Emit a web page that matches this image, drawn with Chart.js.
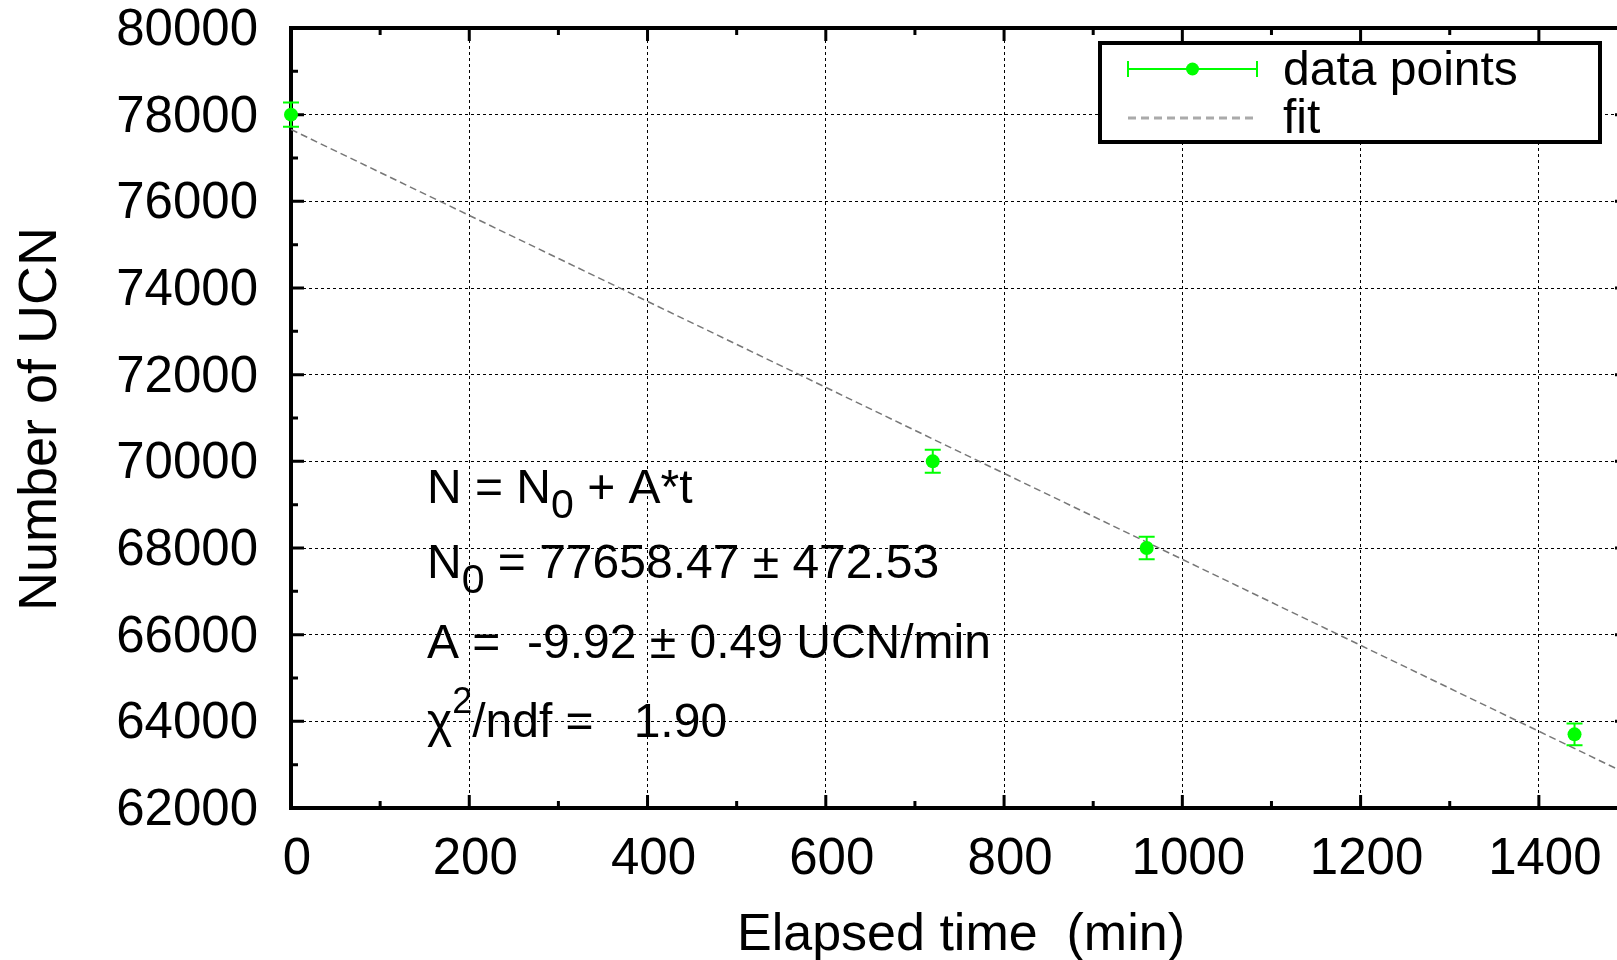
<!DOCTYPE html>
<html>
<head>
<meta charset="utf-8">
<title>Number of UCN vs elapsed time</title>
<script src="https://cdn.jsdelivr.net/npm/chart.js@4.4.1/dist/chart.umd.min.js"></script>
<style>
  html, body { margin: 0; padding: 0; background: #fff; overflow: hidden; }
  #wrap { width: 1640px; height: 960px; }
</style>
</head>
<body>
<div id="wrap"><canvas id="chart" width="1640" height="960"></canvas></div>
<script>
// measured points (time in min, counts, error)
const timeMin = [0, 720, 960, 1440];
const ucnCount = [78000, 70000, 68000, 63700];
const ucnError = [280, 265, 261, 252];

// straight-line fit, end points
const fitTime = [0, 1500];
const fitCount = [77658.47, 62778.47];

const xTicks = [0, 200, 400, 600, 800, 1000, 1200, 1400];
const yTicks = [62000, 64000, 66000, 68000, 70000, 72000, 74000, 76000, 78000, 80000];

// fit result text, one entry per line; sub/sup mark small script parts
const fitText = [
    [{ t: 'N = N' }, { t: '0', sub: true }, { t: ' + A*t' }],
    [{ t: 'N' }, { t: '0', sub: true }, { t: ' = 77658.47 \u00b1 472.53' }],
    [{ t: 'A =  -9.92 \u00b1 0.49 UCN/min' }],
    [{ t: '\u03c7' }, { t: '2', sup: true }, { t: '/ndf =   1.90' }]
];

const FONT = '"Liberation Sans", Arial, Helvetica, sans-serif';
const GREEN = '#00ff00';

Chart.defaults.font.family = FONT;
Chart.defaults.color = '#000';

function drawAxisTicks(ctx, chart) {
    const { left, right, top, bottom } = chart.chartArea;
    const xs = chart.scales.x, ys = chart.scales.y;
    const major = 13, minor = 7;

    const xMajor = xs.ticks.map(t => t.value);
    const xMinor = xMajor.map(v => v + 100);
    const yMajor = ys.ticks.map(t => t.value);
    const yMinor = yMajor.slice(0, -1).map(v => v + 1000);

    ctx.strokeStyle = '#000';
    ctx.lineWidth = 3;
    ctx.beginPath();
    xMajor.forEach(v => {
        const p = xs.getPixelForValue(v);
        ctx.moveTo(p, bottom); ctx.lineTo(p, bottom - major);
        ctx.moveTo(p, top); ctx.lineTo(p, top + major);
    });
    xMinor.forEach(v => {
        const p = xs.getPixelForValue(v);
        ctx.moveTo(p, bottom); ctx.lineTo(p, bottom - minor);
        ctx.moveTo(p, top); ctx.lineTo(p, top + minor);
    });
    yMajor.forEach(v => {
        const p = ys.getPixelForValue(v);
        ctx.moveTo(left, p); ctx.lineTo(left + major, p);
        ctx.moveTo(right, p); ctx.lineTo(right - major, p);
    });
    yMinor.forEach(v => {
        const p = ys.getPixelForValue(v);
        ctx.moveTo(left, p); ctx.lineTo(left + minor, p);
        ctx.moveTo(right, p); ctx.lineTo(right - minor, p);
    });
    ctx.stroke();
}

function drawErrorBars(ctx, chart) {
    const xs = chart.scales.x, ys = chart.scales.y;
    ctx.strokeStyle = GREEN;
    ctx.lineWidth = 2;
    ctx.beginPath();
    timeMin.forEach((t, i) => {
        const px = xs.getPixelForValue(t);
        const hi = ys.getPixelForValue(ucnCount[i] + ucnError[i]);
        const lo = ys.getPixelForValue(ucnCount[i] - ucnError[i]);
        ctx.moveTo(px, hi); ctx.lineTo(px, lo);
        ctx.moveTo(px - 8, hi); ctx.lineTo(px + 8, hi);
        ctx.moveTo(px - 8, lo); ctx.lineTo(px + 8, lo);
    });
    ctx.stroke();
}

function drawLegend(ctx, chart) {
    const ds = chart.data.datasets;
    const bx = 1100, by = 43, bw = 500, bh = 99;
    ctx.fillStyle = '#fff';
    ctx.fillRect(bx, by, bw, bh);
    ctx.strokeStyle = '#000';
    ctx.lineWidth = 4;
    ctx.strokeRect(bx, by, bw, bh);

    // data points symbol: horizontal error bar with marker
    const x1 = 1128, x2 = 1257, r1 = 69;
    ctx.strokeStyle = GREEN;
    ctx.lineWidth = 2;
    ctx.beginPath();
    ctx.moveTo(x1, r1); ctx.lineTo(x2, r1);
    ctx.moveTo(x1, r1 - 8); ctx.lineTo(x1, r1 + 8);
    ctx.moveTo(x2, r1 - 8); ctx.lineTo(x2, r1 + 8);
    ctx.stroke();
    ctx.fillStyle = GREEN;
    ctx.beginPath();
    ctx.arc((x1 + x2) / 2, r1, 6.5, 0, Math.PI * 2);
    ctx.fill();

    // fit symbol
    const r2 = 118;
    ctx.strokeStyle = '#aaaaaa';
    ctx.lineWidth = 3;
    ctx.setLineDash([8, 5]);
    ctx.beginPath();
    ctx.moveTo(x1, r2); ctx.lineTo(x2, r2);
    ctx.stroke();
    ctx.setLineDash([]);

    ctx.fillStyle = '#000';
    ctx.font = '48px ' + FONT;
    ctx.textAlign = 'left';
    ctx.textBaseline = 'alphabetic';
    ctx.fillText(ds[0].label, 1283, 85);
    ctx.fillText(ds[1].label, 1283, 133);
}

function drawFitText(ctx) {
    const x0 = 427;
    const baselines = [503, 578, 658, 737];
    ctx.fillStyle = '#000';
    ctx.textAlign = 'left';
    ctx.textBaseline = 'alphabetic';
    fitText.forEach((line, i) => {
        let x = x0;
        line.forEach(part => {
            let y = baselines[i];
            let size = 48;
            if (part.sub) { size = 41; y += 15; }
            if (part.sup) { size = 36; y -= 24; }
            ctx.font = size + 'px ' + FONT;
            ctx.fillText(part.t, x, y);
            x += ctx.measureText(part.t).width;
        });
    });
}

function drawTitles(ctx, chart) {
    ctx.fillStyle = '#000';
    ctx.font = '52px ' + FONT;
    ctx.textBaseline = 'alphabetic';
    ctx.textAlign = 'center';
    ctx.fillText('Elapsed time  (min)', 961, 950);
    ctx.save();
    ctx.font = '54px ' + FONT;
    ctx.translate(56, 419);
    ctx.rotate(-Math.PI / 2);
    ctx.fillText('Number of UCN', 0, 0);
    ctx.restore();
}

const rootStyle = {
    id: 'rootStyle',
    beforeDatasetsDraw(chart) {
        const ctx = chart.ctx;
        ctx.save();
        const { left, right, top, bottom } = chart.chartArea;
        ctx.strokeStyle = '#000';
        ctx.lineWidth = 4;
        ctx.strokeRect(left, top, right - left, bottom - top);
        drawAxisTicks(ctx, chart);
        drawErrorBars(ctx, chart);
        ctx.restore();
    },
    afterDraw(chart) {
        const ctx = chart.ctx;
        ctx.save();
        drawFitText(ctx);
        drawLegend(ctx, chart);
        drawTitles(ctx, chart);
        ctx.restore();
    }
};

function noPad(s) {
    s.paddingTop = 0;
    s.paddingBottom = 0;
    s.paddingLeft = 0;
    s.paddingRight = 0;
}

const ctx = document.getElementById('chart').getContext('2d');
new Chart(ctx, {
    type: 'scatter',
    data: {
        datasets: [
            {
                label: 'data points',
                data: timeMin.map((t, i) => ({ x: t, y: ucnCount[i] })),
                backgroundColor: GREEN,
                borderColor: GREEN,
                pointRadius: 7,
                pointBorderWidth: 0,
                showLine: false,
                clip: false,
                order: 0
            },
            {
                label: 'fit',
                type: 'line',
                data: fitTime.map((t, i) => ({ x: t, y: fitCount[i] })),
                borderColor: '#777777',
                borderWidth: 1.5,
                borderDash: [7, 4],
                pointRadius: 0,
                fill: false,
                order: 1
            }
        ]
    },
    options: {
        responsive: false,
        animation: false,
        layout: { padding: { left: 0, top: 28, right: 12, bottom: 0 } },
        plugins: {
            legend: { display: false },
            tooltip: { enabled: false }
        },
        scales: {
            x: {
                type: 'linear',
                min: 0,
                max: 1500,
                afterBuildTicks: s => { s.ticks = xTicks.map(v => ({ value: v })); },
                afterFit: s => { s.height = 152; noPad(s); },
                grid: { color: '#000', lineWidth: 1, drawTicks: false },
                border: { display: false, dash: [3, 3] },
                ticks: {
                    font: { size: 51 },
                    color: '#000',
                    padding: 21,
                    labelOffset: 6,
                    maxRotation: 0,
                    autoSkip: false,
                    callback: v => String(v)
                }
            },
            y: {
                type: 'linear',
                min: 62000,
                max: 80000,
                afterBuildTicks: s => { s.ticks = yTicks.map(v => ({ value: v })); },
                afterFit: s => { s.width = 291; noPad(s); },
                grid: { color: '#000', lineWidth: 1, drawTicks: false },
                border: { display: false, dash: [3, 3] },
                ticks: {
                    font: { size: 51 },
                    color: '#000',
                    padding: 33,
                    labelOffset: 3,
                    autoSkip: false,
                    callback: v => String(v)
                }
            }
        }
    },
    plugins: [rootStyle]
});
</script>
</body>
</html>
